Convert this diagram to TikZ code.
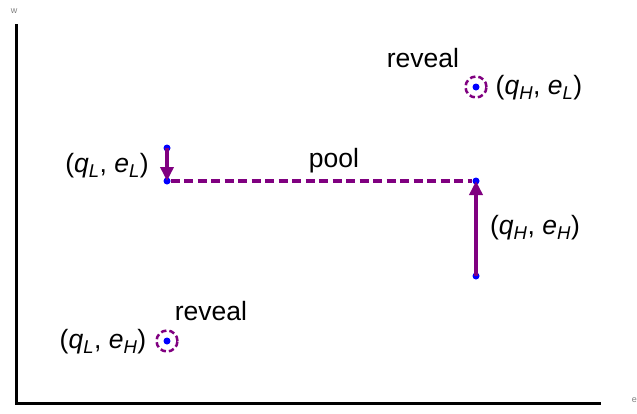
\documentclass[tikz,border=0pt]{standalone}
\usepackage{fontspec}
\setmainfont{Liberation Sans}
\usetikzlibrary{arrows.meta}
\definecolor{pur}{HTML}{800080}
\newcommand{\lab}[4]{(\textit{#1}\textsubscript{\textit{#2}}, \textit{#3}\textsubscript{\textit{#4}})}
\tikzset{
  axis/.style={line width=3pt},
  arr/.style={pur, line width=3.8pt, -{Triangle[length=14pt,width=13pt]}},
  pooled/.style={pur, line width=3.5pt, dash pattern=on 9pt off 4.5pt},
  ring/.style={circle, draw=pur, line width=2.5pt, dash pattern=on 5.5pt off 3pt, minimum size=21pt, inner sep=0pt},
  pt/.style={circle, fill=blue, inner sep=0pt, minimum size=7pt},
  txt/.style={font=\fontsize{26.5}{30}\selectfont, inner sep=0pt},
  tiny/.style={font=\fontsize{9}{10}\selectfont, text=gray, inner sep=0pt}
}
\begin{document}
\begin{tikzpicture}[x=1pt,y=-1pt]
\useasboundingbox (0,0) rectangle (637,413);
\node[tiny] (w) at (14,11) {w};
\node[tiny, anchor=east] (e) at (637,400) {e};
\coordinate (o) at (16,403);
\coordinate (top) at (16,24);
\coordinate (right) at (601,403);
\draw[axis] (top) -- (o) -- (right);
% points
\node[pt] (a1) at (167,148) {};
\node[pt] (a2) at (167,181) {};
\node[pt] (b1) at (476,181) {};
\node[pt] (b2) at (476,276) {};
\node[ring] (r1) at (476,87) {};
\node[pt] (c1) at (476,87) {};
\node[ring] (r2) at (167,341) {};
\node[pt] (c2) at (167,341) {};
\draw[arr] (a1.center) -- (a2.center);
\draw[arr] (b2.center) -- (b1.center);
\draw[pooled] (a2) -- (b1);
% labels
\node[txt] (lLL) at (107,166) {\lab{q}{L}{e}{L}};
\node[txt] (pool) at (334,161) {pool};
\node[txt] (lHH) at (535,228) {\lab{q}{H}{e}{H}};
\node[txt] (rev1) at (423,58) {reveal};
\node[txt] (lHL) at (539,88) {\lab{q}{H}{e}{L}};
\node[txt] (rev2) at (211,311) {reveal};
\node[txt] (lLH) at (103,342) {\lab{q}{L}{e}{H}};
\end{tikzpicture}
\end{document}
